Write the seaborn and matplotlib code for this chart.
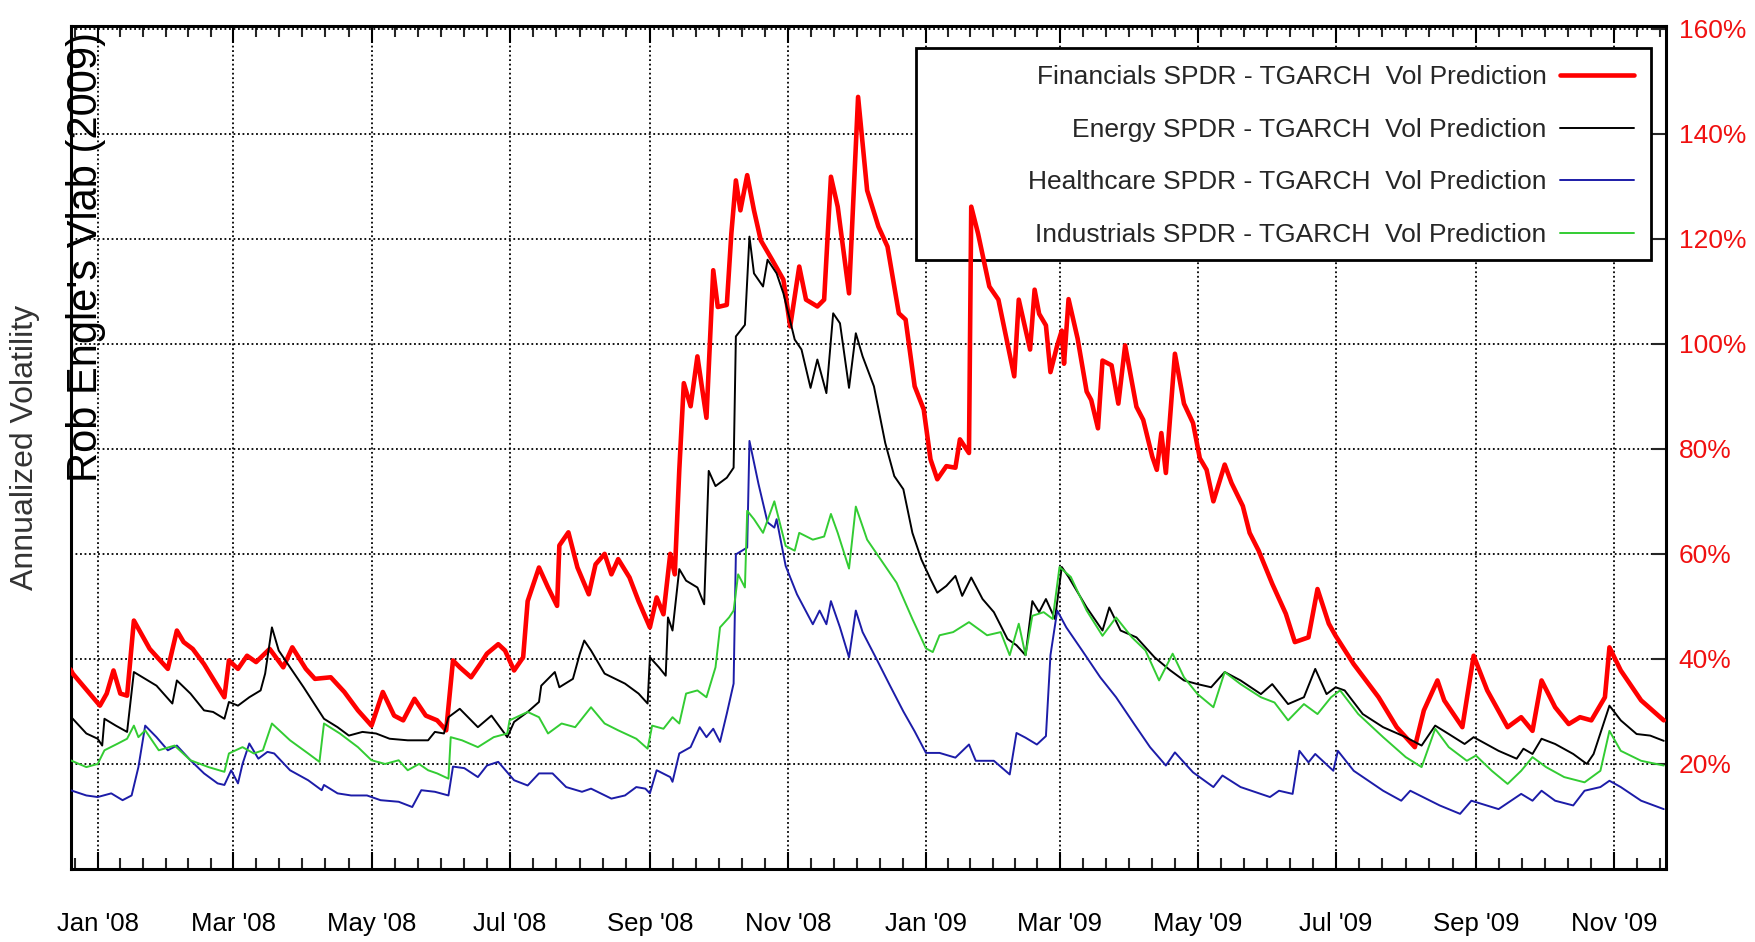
import pandas as pd
import matplotlib
matplotlib.use('Agg')
import matplotlib.pyplot as plt
import matplotlib.dates as mdates
from matplotlib.patches import Rectangle
from matplotlib.ticker import FixedLocator
import seaborn as sns

# points: (days since 2008-01-01, annualized vol in %)
financials = [(-12, 38.0), (-11, 37.2), (1, 31.1), (4, 33.4), (7, 37.8), (10, 33.4), (13, 33.0),
              (16, 47.3), (23, 41.9), (27, 40.0), (31, 38.1), (35, 45.4), (38, 43.2), (42, 41.9),
              (47, 39.0), (56, 32.7), (58, 39.7), (62, 38.1), (66, 40.6), (70, 39.4), (76, 41.9),
              (82, 38.4), (86, 42.2), (92, 38.1), (96, 36.2), (103, 36.5), (109, 33.7), (115, 30.2),
              (121, 27.3), (126, 33.7), (131, 29.2), (135, 28.3), (140, 32.4), (145, 29.2), (150, 28.3),
              (154, 26.4), (157, 39.7), (160, 38.4), (165, 36.5), (169, 39.0), (172, 41.0), (177, 42.8),
              (180, 41.6), (184, 37.8), (188, 40.3), (190, 51.0), (195, 57.4), (199, 53.6), (203, 50.1),
              (204, 61.6), (208, 64.1), (212, 57.4), (217, 52.3), (220, 58.0), (224, 60.0), (227, 56.1),
              (230, 59.0), (235, 55.5), (239, 51.0), (244, 46.0), (247, 51.7), (250, 48.5), (253, 60.0),
              (255, 56.1), (257, 76.0), (259, 92.5), (262, 88.1), (265, 97.6), (269, 85.9), (272, 114.0),
              (274, 107.0), (278, 107.4), (280, 121.0), (282, 131.1), (284, 125.4), (287, 132.1),
              (290, 125.4), (293, 119.7), (298, 116.0), (303, 112.2), (306, 103.3), (310, 114.7),
              (313, 108.4), (318, 107.1), (321, 108.4), (324, 131.8), (327, 126.1), (332, 109.6),
              (336, 147.0), (340, 129.2), (345, 122.3), (349, 118.5), (354, 105.8), (357, 104.6),
              (361, 91.9), (365, 87.5), (368, 78.0), (371, 74.2), (375, 76.7), (379, 76.4), (381, 81.8),
              (385, 79.2), (386, 126.1), (389, 121.0), (394, 110.9), (398, 108.4), (405, 93.8),
              (407, 108.4), (412, 98.9), (414, 110.3), (416, 105.7), (419, 103.5), (421, 94.6),
              (424, 99.7), (426, 102.5), (427, 96.2), (429, 108.5), (433, 101.0), (437, 90.9),
              (439, 89.3), (442, 83.9), (444, 96.8), (448, 95.9), (451, 88.6), (454, 99.7), (459, 88.0),
              (462, 85.5), (466, 78.5), (468, 76.0), (470, 83.0), (472, 75.4), (476, 98.1), (480, 88.6),
              (484, 84.9), (487, 78.2), (490, 76.0), (493, 70.0), (498, 77.0), (501, 73.5), (506, 69.1),
              (509, 64.0), (513, 60.6), (519, 54.3), (525, 48.6), (529, 43.2), (535, 44.1), (539, 53.3),
              (544, 46.7), (547, 44.4), (555, 39.0), (566, 32.7), (574, 27.0), (582, 23.2), (586, 30.2),
              (592, 35.9), (595, 32.1), (603, 27.0), (608, 40.6), (614, 34.0), (623, 27.0), (629, 28.9),
              (634, 26.3), (638, 35.9), (644, 30.8), (650, 27.6), (655, 28.9), (660, 28.3), (666, 32.7),
              (668, 42.2), (673, 37.8), (682, 32.1), (692, 28.3)]

energy = [(-12, 29.0), (-11, 28.6), (-5, 25.8), (0, 24.8), (2, 23.5), (3, 28.6), (8, 27.3), (13, 26.1),
          (16, 37.5), (21, 36.2), (26, 34.9), (33, 31.5), (35, 35.9), (41, 33.4), (47, 30.2), (51, 29.9),
          (56, 28.6), (58, 31.8), (62, 31.1), (67, 32.7), (72, 34.0), (74, 37.2), (77, 46.0), (80, 41.6),
          (85, 38.4), (91, 34.6), (100, 28.6), (106, 27.0), (111, 25.4), (117, 26.1), (123, 25.8),
          (129, 24.8), (137, 24.5), (146, 24.5), (149, 26.1), (153, 25.8), (155, 28.9), (160, 30.5),
          (168, 27.0), (174, 29.2), (181, 25.1), (184, 28.0), (190, 29.9), (195, 31.8), (196, 34.9),
          (202, 37.5), (204, 34.6), (210, 36.2), (213, 40.9), (215, 43.5), (218, 41.6), (224, 37.2),
          (233, 35.3), (239, 33.4), (243, 31.5), (244, 40.3), (248, 38.4), (251, 36.8), (252, 47.9),
          (254, 45.4), (257, 57.1), (260, 54.9), (265, 53.6), (268, 50.4), (270, 75.8), (273, 72.9),
          (278, 74.5), (281, 76.4), (282, 101.4), (286, 103.6), (288, 120.4), (290, 113.4),
          (294, 110.9), (296, 116.0), (300, 113.4), (303, 109.6), (308, 100.8), (311, 98.9),
          (315, 91.6), (318, 97.0), (322, 90.6), (325, 105.8), (328, 103.9), (332, 91.6), (335, 102.0),
          (338, 97.6), (343, 91.9), (348, 81.1), (352, 74.8), (356, 72.3), (360, 64.0), (364, 58.9),
          (368, 55.2), (371, 52.6), (375, 53.9), (379, 55.8), (382, 52.0), (386, 55.5), (391, 51.4),
          (396, 48.9), (402, 43.8), (406, 42.6), (410, 40.7), (413, 51.0), (416, 48.9), (419, 51.4),
          (423, 47.6), (426, 57.5), (429, 55.6), (437, 49.8), (444, 45.4), (447, 49.8), (452, 45.4),
          (459, 44.1), (467, 40.3), (474, 37.8), (480, 35.9), (486, 35.2), (492, 34.6), (498, 37.5),
          (505, 35.9), (514, 33.3), (519, 35.2), (526, 31.4), (533, 32.7), (538, 38.1), (543, 33.3),
          (547, 34.6), (551, 34.0), (559, 29.5), (568, 27.0), (578, 25.1), (585, 23.5), (591, 27.3),
          (597, 25.7), (604, 23.8), (608, 25.1), (619, 22.5), (627, 21.0), (630, 22.9), (634, 21.9),
          (638, 24.8), (644, 23.8), (652, 21.9), (658, 20.0), (661, 21.9), (668, 31.1), (673, 28.3),
          (680, 25.7), (686, 25.4), (692, 24.4)]

healthcare = [(-12, 15.0), (-5, 14.0), (0, 13.7), (6, 14.4), (11, 13.1), (15, 14.0), (18, 19.4),
              (21, 27.3), (26, 25.1), (31, 22.6), (35, 23.5), (41, 20.7), (47, 18.2), (53, 16.3),
              (56, 16.0), (59, 18.8), (62, 16.3), (64, 20.0), (67, 23.9), (71, 21.0), (75, 22.3),
              (78, 22.0), (85, 18.8), (93, 16.9), (99, 15.0), (100, 16.0), (106, 14.4), (112, 14.0),
              (119, 14.0), (125, 13.1), (133, 12.8), (139, 11.8), (143, 15.0), (149, 14.7), (155, 14.0),
              (157, 19.5), (162, 19.2), (168, 17.5), (172, 19.7), (177, 20.4), (184, 16.9), (190, 15.9),
              (195, 18.2), (201, 18.2), (207, 15.6), (214, 14.7), (218, 15.3), (227, 13.4), (233, 14.0),
              (238, 15.6), (242, 15.3), (244, 14.4), (247, 18.8), (253, 17.5), (254, 16.6), (257, 22.0),
              (262, 23.2), (266, 27.0), (269, 25.1), (272, 26.7), (275, 24.2), (278, 29.6), (281, 35.3),
              (282, 59.9), (287, 61.2), (288, 81.5), (292, 73.3), (296, 66.0), (299, 65.0), (300, 66.6),
              (304, 57.7), (309, 52.3), (316, 46.6), (319, 49.2), (322, 46.6), (324, 51.0), (328, 46.0),
              (332, 40.3), (335, 49.2), (338, 45.1), (344, 40.1), (350, 35.0), (356, 30.0), (361, 26.2),
              (366, 22.1), (372, 22.1), (379, 21.2), (385, 23.7), (388, 20.6), (396, 20.6), (403, 18.0),
              (406, 25.9), (410, 25.0), (415, 23.7), (419, 25.3), (421, 40.7), (424, 49.2), (428, 46.0),
              (435, 41.6), (443, 36.5), (450, 32.7), (458, 27.6), (465, 23.2), (472, 19.7), (476, 22.2),
              (484, 18.4), (493, 15.6), (497, 17.8), (505, 15.6), (518, 13.7), (522, 14.9), (528, 14.3),
              (531, 22.5), (535, 20.3), (538, 21.9), (546, 18.7), (548, 22.5), (555, 18.7), (568, 14.9),
              (576, 13.0), (580, 14.9), (593, 12.1), (602, 10.5), (607, 13.0), (619, 11.4), (629, 14.3),
              (634, 13.0), (638, 14.9), (644, 13.0), (652, 12.1), (657, 14.9), (664, 15.6), (668, 16.8),
              (673, 15.6), (682, 13.0), (692, 11.4)]

industrials = [(-12, 20.7), (-5, 19.4), (0, 20.0), (3, 22.6), (9, 23.9), (13, 24.8), (16, 27.3),
               (18, 25.1), (21, 26.4), (27, 22.6), (34, 23.5), (41, 20.7), (49, 19.4), (56, 18.5),
               (58, 22.0), (64, 23.2), (69, 22.0), (73, 22.6), (77, 27.7), (85, 24.5), (93, 22.0),
               (98, 20.4), (100, 27.7), (107, 25.8), (115, 23.2), (121, 20.7), (127, 20.0), (133, 20.7),
               (137, 18.8), (142, 20.0), (146, 18.8), (150, 18.2), (155, 17.2), (156, 25.1), (161, 24.5),
               (168, 23.2), (175, 25.1), (181, 25.8), (182, 28.3), (190, 29.9), (195, 28.9), (199, 25.8),
               (205, 27.7), (211, 27.0), (218, 30.8), (224, 27.7), (230, 26.4), (238, 24.8), (243, 22.9),
               (245, 27.3), (250, 26.7), (254, 28.9), (257, 27.7), (260, 33.4), (265, 34.0), (269, 32.7),
               (273, 38.4), (275, 46.0), (279, 47.9), (281, 49.2), (283, 56.1), (286, 53.6), (287, 68.2),
               (290, 66.6), (294, 64.0), (299, 70.0), (304, 61.5), (308, 60.6), (310, 64.0), (316, 62.7),
               (321, 63.3), (324, 67.6), (327, 64.0), (332, 57.2), (335, 69.0), (340, 62.7), (346, 58.9),
               (353, 54.5), (360, 47.6), (366, 42.0), (369, 41.3), (372, 44.5), (378, 45.1), (385, 47.0),
               (393, 44.5), (399, 45.1), (403, 40.7), (407, 46.7), (410, 40.7), (413, 48.2), (418, 48.9),
               (422, 47.6), (425, 57.5), (430, 55.6), (437, 49.2), (444, 44.4), (450, 47.9), (457, 44.1),
               (463, 41.6), (469, 35.9), (475, 41.0), (480, 36.5), (486, 33.3), (493, 30.8), (498, 37.5),
               (505, 35.2), (514, 32.7), (520, 31.7), (526, 28.3), (533, 31.4), (539, 29.5), (545, 32.7),
               (549, 34.0), (557, 29.5), (568, 25.1), (578, 21.3), (585, 19.4), (591, 26.7), (597, 23.2),
               (605, 20.6), (609, 21.6), (616, 18.7), (623, 16.2), (629, 18.7), (634, 21.3), (640, 19.4),
               (648, 17.5), (657, 16.5), (664, 18.7), (668, 26.3), (673, 22.5), (682, 20.6), (692, 19.7)]

series = [financials, energy, healthcare, industrials]
labels = ['Financials SPDR - TGARCH  Vol Prediction',
          'Energy SPDR - TGARCH  Vol Prediction',
          'Healthcare SPDR - TGARCH  Vol Prediction',
          'Industrials SPDR - TGARCH  Vol Prediction']
colors = ['#ff0000', '#000000', '#1c1ca8', '#33cc33']
widths = [3.3, 1.4, 1.4, 1.4]
y_ticks = [20, 40, 60, 80, 100, 120, 140, 160]

sns.set_theme(style='white')
plt.rcParams['font.family'] = ['Liberation Sans', 'DejaVu Sans']

fig, ax = plt.subplots(figsize=(17.55, 9.42), dpi=100)
fig.subplots_adjust(left=0.0405, right=0.9493, top=0.9724, bottom=0.0775)

base = pd.Timestamp('2008-01-01')
for pts, lab, col, lw in zip(series, labels, colors, widths):
    day = [p[0] for p in pts]
    vol = [p[1] for p in pts]
    dates = base + pd.to_timedelta(day, unit='D')
    sns.lineplot(x=dates, y=vol, color=col, linewidth=lw, label=lab, ax=ax,
                 estimator=None, sort=False, zorder=3)

ax.set_xlim(pd.Timestamp('2007-12-20 06:00'), pd.Timestamp('2009-11-24'))
ax.set_ylim(0, 160.5)
ax.set_xlabel('')
ax.set_ylabel('')

# x axis: labelled every two months, 5 minor ticks in between
ax.xaxis.set_major_locator(mdates.MonthLocator(bymonth=[1, 3, 5, 7, 9, 11]))
ax.xaxis.set_major_formatter(mdates.DateFormatter("%b '%y"))
majors = mdates.date2num(pd.date_range('2007-11-01', '2010-01-01', freq='2MS'))
minors = []
for a, b in zip(majors[:-1], majors[1:]):
    minors += [a + (b - a) * k / 6 for k in range(1, 6)]
ax.xaxis.set_minor_locator(FixedLocator(minors))

ax.yaxis.tick_right()
ax.set_yticks(y_ticks)
ax.set_yticklabels([f'{v}%' for v in y_ticks], color='red')

ax.tick_params(axis='x', which='major', direction='in', length=12, width=1.5, pad=31,
               labelsize=18.5, top=True, bottom=True, colors='black')
ax.tick_params(axis='x', which='minor', direction='in', length=8, width=1.5, top=True, bottom=True)
ax.tick_params(axis='y', which='major', direction='in', length=10, width=1.5, pad=9,
               labelsize=19, right=True, left=False, labelcolor='#f01010')

ax.grid(True, which='major', color='black', linestyle=(0, (1, 1.5)), linewidth=1.3)
ax.set_axisbelow(True)
for s in ax.spines.values():
    s.set_color('black')
    s.set_linewidth(2.2)

# key box: white, covers the grid but the data is drawn over it
ax.add_patch(Rectangle((0.5295, 0.7228), 0.9906 - 0.5295, 0.9739 - 0.7228, transform=ax.transAxes,
                       facecolor='white', edgecolor='black', linewidth=2, zorder=1))
leg = ax.legend(loc='upper right', bbox_to_anchor=(0.9906, 0.9739), borderaxespad=0, frameon=False,
                markerfirst=False, fontsize=19, handlelength=2.8, handletextpad=0.5,
                labelspacing=1.08, borderpad=0.66)
leg.set_zorder(2)
for column in leg._legend_handle_box.get_children():
    column.align = 'right'

ax.text(0.0094, 0.726, "Rob Engle's Vlab (2009)", transform=ax.transAxes, rotation=90,
        ha='center', va='center', fontsize=30, color='black', zorder=4)
fig.text(0.014, 0.525, 'Annualized Volatility', rotation=90, ha='center', va='center',
         fontsize=23, color='#333333')

fig.savefig('out.png', dpi=100)
